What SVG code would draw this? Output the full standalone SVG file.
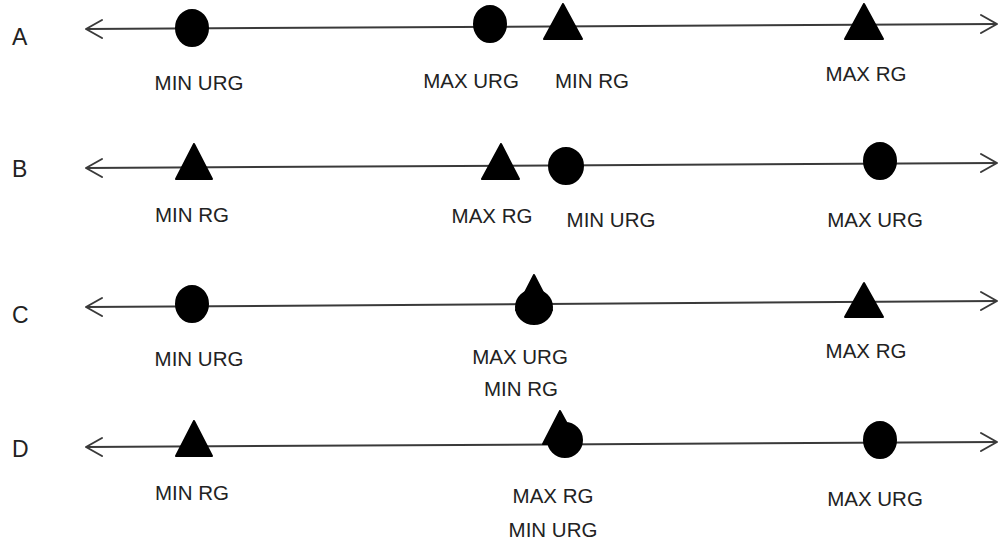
<svg xmlns="http://www.w3.org/2000/svg" width="1002" height="547" viewBox="0 0 1002 547">
<defs>
<style>
.axis{stroke:#3a3a3a;stroke-width:2;fill:none}
.head{stroke:#3a3a3a;stroke-width:2;fill:none;stroke-linecap:round;stroke-linejoin:round}
.mk{fill:#000;stroke:#000;stroke-width:2;stroke-linejoin:round}
.lbl{font-family:"Liberation Sans",Arial,sans-serif;font-size:20.5px;fill:#222;text-anchor:middle}
.row{font-family:"Liberation Sans",Arial,sans-serif;font-size:23px;fill:#222}
</style>
</defs>
<rect width="1002" height="547" fill="#fff"/>
<g id="connectors">
<line class="axis" x1="86" y1="29" x2="997" y2="24"/>
<polyline class="head" points="102,20 86,29 102,38"/>
<polyline class="head" points="981,15 997,24 981,33"/>
<line class="axis" x1="86" y1="168" x2="997" y2="163"/>
<polyline class="head" points="102,159 86,168 102,177"/>
<polyline class="head" points="981,154 997,163 981,172"/>
<line class="axis" x1="86" y1="307" x2="997" y2="301"/>
<polyline class="head" points="102,298 86,307 102,316"/>
<polyline class="head" points="981,292 997,301 981,310"/>
<line class="axis" x1="86" y1="447" x2="997" y2="442"/>
<polyline class="head" points="102,438 86,447 102,456"/>
<polyline class="head" points="981,433 997,442 981,451"/>
</g>
<g id="rowA">
<text class="row" x="12" y="45">A</text>
<g id="A-min-urg"><ellipse class="mk" cx="192" cy="28" rx="16" ry="18"/><text class="lbl" x="199" y="90">MIN URG</text></g>
<g id="A-max-urg"><ellipse class="mk" cx="490" cy="24" rx="16" ry="18"/><text class="lbl" x="471" y="88">MAX URG</text></g>
<g id="A-min-rg"><polygon class="mk" points="563,4 544,39 582,39"/><text class="lbl" x="592" y="88">MIN RG</text></g>
<g id="A-max-rg"><polygon class="mk" points="864,4 845,39 883,39"/><text class="lbl" x="866" y="81">MAX RG</text></g>
</g>
<g id="rowB">
<text class="row" x="12" y="177">B</text>
<g id="B-min-rg"><polygon class="mk" points="194,144 176,179 212,179"/><text class="lbl" x="192" y="222">MIN RG</text></g>
<g id="B-max-rg"><polygon class="mk" points="501,144 482,179 519,179"/><text class="lbl" x="492" y="223">MAX RG</text></g>
<g id="B-min-urg"><ellipse class="mk" cx="566" cy="166" rx="17" ry="18"/><text class="lbl" x="611" y="227">MIN URG</text></g>
<g id="B-max-urg"><ellipse class="mk" cx="880" cy="161" rx="16" ry="18"/><text class="lbl" x="875" y="227">MAX URG</text></g>
</g>
<g id="rowC">
<text class="row" x="12" y="323">C</text>
<g id="C-min-urg"><ellipse class="mk" cx="192" cy="304" rx="16" ry="18"/><text class="lbl" x="199" y="366">MIN URG</text></g>
<g id="C-max-urg-min-rg"><polygon class="mk" points="534,275 516,310 552,310"/><ellipse class="mk" cx="534" cy="307" rx="18" ry="17"/><text class="lbl" x="520" y="364">MAX URG</text><text class="lbl" x="521" y="396">MIN RG</text></g>
<g id="C-max-rg"><polygon class="mk" points="864,283 845,317 883,317"/><text class="lbl" x="866" y="358">MAX RG</text></g>
</g>
<g id="rowD">
<text class="row" x="12" y="457">D</text>
<g id="D-min-rg"><polygon class="mk" points="194,421 176,456 212,456"/><text class="lbl" x="192" y="500">MIN RG</text></g>
<g id="D-max-rg-min-urg"><polygon class="mk" points="560,411 543,444 578,444"/><ellipse class="mk" cx="565" cy="440" rx="17" ry="17"/><text class="lbl" x="553" y="503">MAX RG</text><text class="lbl" x="553" y="537">MIN URG</text></g>
<g id="D-max-urg"><ellipse class="mk" cx="880" cy="440" rx="16" ry="18"/><text class="lbl" x="875" y="506">MAX URG</text></g>
</g>
</svg>
